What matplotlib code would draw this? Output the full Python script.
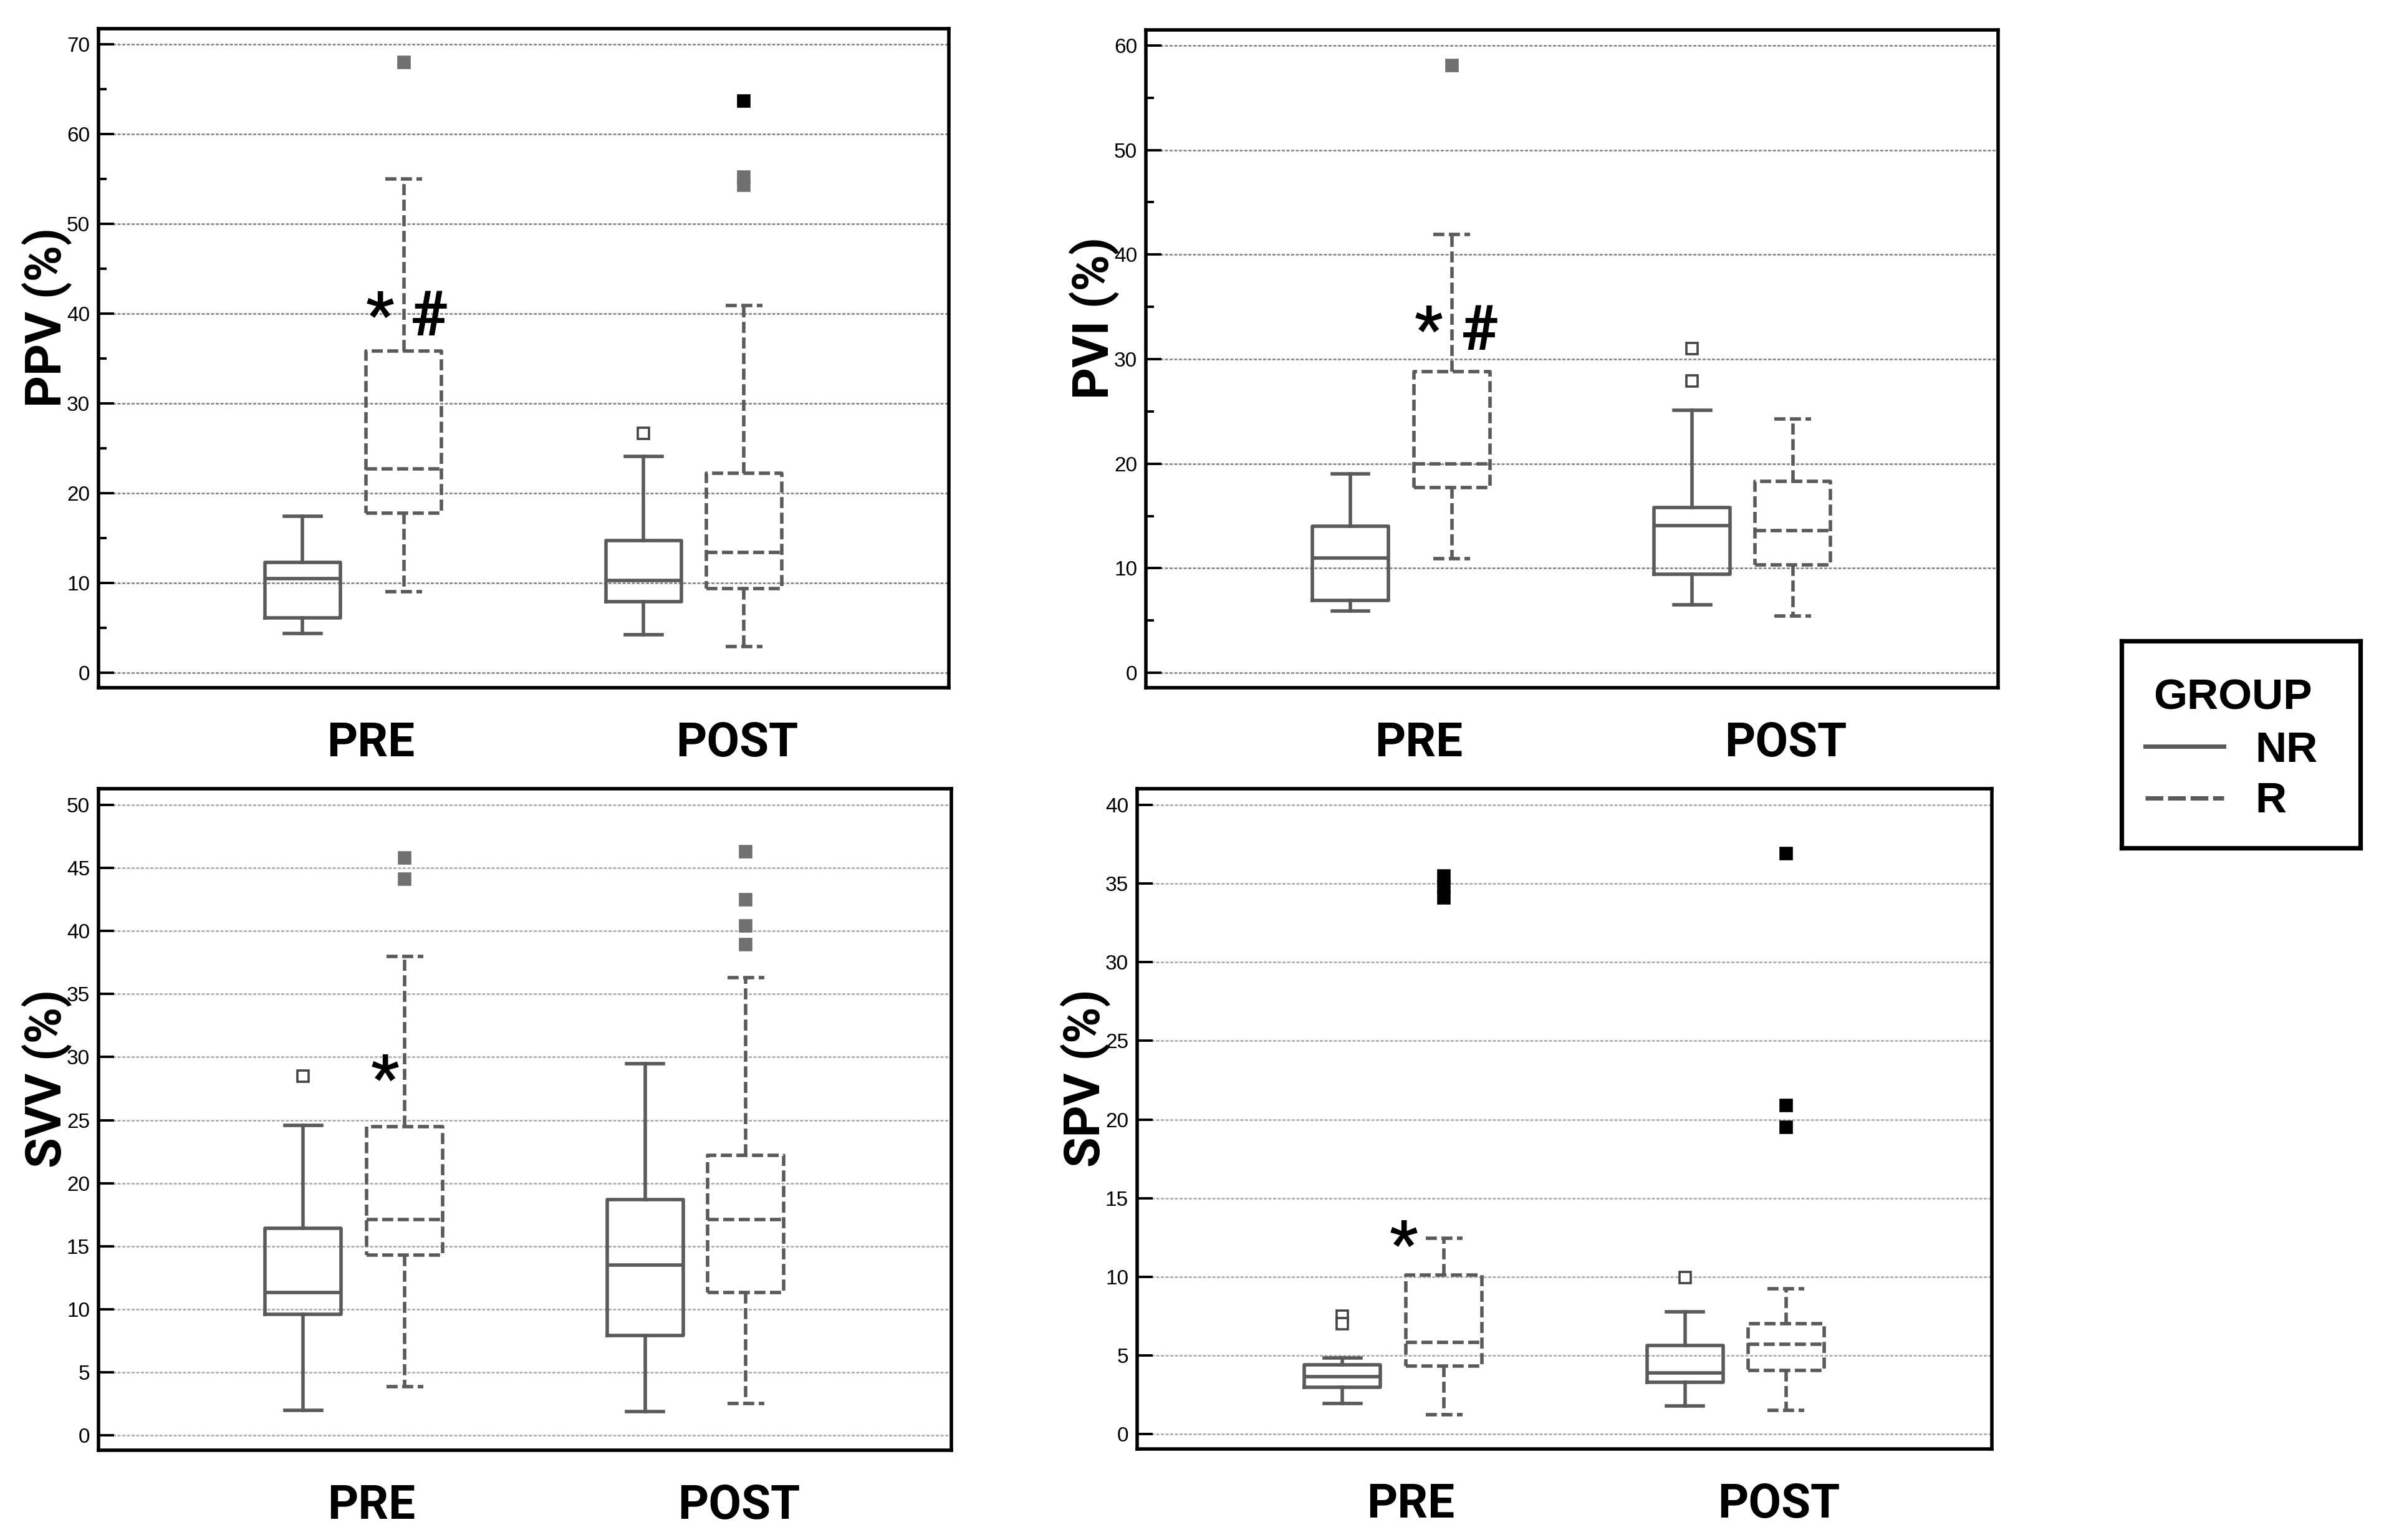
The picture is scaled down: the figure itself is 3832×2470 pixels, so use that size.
import matplotlib
matplotlib.use("Agg")
import matplotlib.pyplot as plt
from matplotlib.lines import Line2D

# %%
# box stats per group: [whisker low, Q1, median, Q3, whisker high], rows PRE, POST
phases = ["PRE", "POST"]
groups = ["NR", "R"]

ppv_nr = [[4.4, 6.1, 10.5, 12.3, 17.4], [4.2, 7.9, 10.3, 14.7, 24.1]]
ppv_r = [[9.0, 17.8, 22.7, 35.8, 55.0], [2.9, 9.4, 13.4, 22.2, 40.9]]
pvi_nr = [[5.9, 6.9, 11.0, 14.0, 19.0], [6.5, 9.4, 14.1, 15.8, 25.1]]
pvi_r = [[10.9, 17.7, 20.0, 28.8, 41.9], [5.4, 10.3, 13.6, 18.3, 24.3]]
svv_nr = [[2.0, 9.6, 11.3, 16.4, 24.6], [1.9, 7.9, 13.5, 18.7, 29.5]]
svv_r = [[3.85, 14.3, 17.1, 24.5, 38.0], [2.5, 11.3, 17.1, 22.2, 36.3]]
spv_nr = [[1.96, 2.99, 3.63, 4.4, 4.85], [1.77, 3.31, 3.88, 5.62, 7.77]]
spv_r = [[1.22, 4.33, 5.84, 10.1, 12.46], [1.51, 4.04, 5.71, 7.03, 9.25]]

# outliers as (box, value); box 0 = NR PRE, 1 = R PRE, 2 = NR POST, 3 = R POST
ppv_open = [(2, 26.7)]
ppv_grey = [(1, 68.0), (3, 54.3), (3, 55.2)]
ppv_black = [(3, 63.7)]
pvi_open = [(2, 31.0), (2, 27.9)]
pvi_grey = [(1, 58.1)]
pvi_black = []
svv_open = [(0, 28.5)]
svv_grey = [(1, 45.8), (1, 44.1), (3, 46.3), (3, 42.5), (3, 40.4), (3, 38.9)]
svv_black = []
spv_open = [(0, 7.5), (0, 7.0), (2, 9.95)]
spv_grey = []
spv_black = [(1, 35.5), (1, 34.8), (1, 34.1), (3, 36.9), (3, 20.9), (3, 19.5)]

# significance marks: (symbol, x in axes fraction, baseline value)
ppv_marks = [("*", 0.331, 37.6), ("#", 0.389, 37.6)]
pvi_marks = [("*", 0.332, 30.9), ("#", 0.392, 30.9)]
svv_marks = [("*", 0.336, 26.7)]
spv_marks = [("*", 0.312, 10.8)]

# %%
BOX_POS = [0.240, 0.359, 0.641, 0.759]
LABEL_POS = [0.320, 0.751]
BOX_W = 0.089
CAP_W = 0.043
LINE_C = "#5a5a5a"
DASH = (0, (3.2, 1.3))
BIG_FONT = "Roboto"
TICK_FONT = "Liberation Sans"

W, H = 3832, 2470


def rect(left, top, right, bottom):
    return [left / W, 1 - bottom / H, (right - left) / W, (bottom - top) / H]


def to_stats(vals):
    lo, q1, med, q3, hi = vals
    return dict(whislo=lo, q1=q1, med=med, q3=q3, whishi=hi, fliers=[])


def draw_panel(ax, nr, r, open_pts, grey_pts, black_pts, marks,
               ylabel, ymax, step, minor, ylim, grid_c):
    ax.set_xlim(0, 1)
    ax.set_ylim(*ylim)

    for vals, pos, ls in ((nr, [BOX_POS[0], BOX_POS[2]], "-"),
                          (r, [BOX_POS[1], BOX_POS[3]], DASH)):
        props = dict(color=LINE_C, linewidth=2.0, linestyle=ls)
        ax.bxp([to_stats(v) for v in vals], positions=pos, widths=BOX_W,
               capwidths=CAP_W, showfliers=False, manage_ticks=False,
               boxprops=props, whiskerprops=props, capprops=props,
               medianprops=props)

    for pts, fc, ec in ((open_pts, "white", "#444444"),
                        (grey_pts, "#707070", "#707070"),
                        (black_pts, "black", "black")):
        if pts:
            xs = [BOX_POS[i] for i, _ in pts]
            ys = [v for _, v in pts]
            ax.plot(xs, ys, ls="none", marker="s", ms=6.8, mfc=fc, mec=ec,
                    mew=1.3, zorder=4)

    for sym, fx, y in marks:
        ax.text(fx, y, sym, transform=ax.get_yaxis_transform(), ha="center",
                va="baseline", fontsize=36, fontweight="bold",
                family=BIG_FONT, zorder=5)

    ax.set_yticks(range(0, ymax + 1, step))
    if minor:
        ax.set_yticks([v + step / 2 for v in range(0, ymax, step)], minor=True)
    ax.tick_params(axis="y", which="major", direction="in", length=9,
                   width=1.4, labelsize=12, pad=5)
    ax.tick_params(axis="y", which="minor", direction="in", length=4.5,
                   width=1.4)
    for lab in ax.get_yticklabels():
        lab.set_family(TICK_FONT)
    ax.set_xticks(LABEL_POS, phases)
    ax.tick_params(axis="x", length=0, pad=19)
    for lab in ax.get_xticklabels():
        lab.set_family(BIG_FONT)
        lab.set_fontsize(27.5)
        lab.set_fontweight("bold")

    ax.yaxis.grid(True, which="major", color=grid_c, linestyle=(0, (2, 1)),
                  linewidth=0.9)
    ax.set_axisbelow(True)
    for sp in ax.spines.values():
        sp.set_linewidth(2.0)
        sp.set_color("black")

    ax.text(-0.061, 0.562, ylabel, transform=ax.transAxes, rotation=90,
            ha="center", va="center", fontsize=28.5, fontweight="bold",
            family=BIG_FONT)


# %%
fig = plt.figure(figsize=(W / 200, H / 200), dpi=200)

ax_ppv = fig.add_axes(rect(158, 46, 1522, 1103))
ax_pvi = fig.add_axes(rect(1838, 48, 3205, 1103))
ax_svv = fig.add_axes(rect(158, 1265, 1526, 2326))
ax_spv = fig.add_axes(rect(1824, 1265, 3195, 2324))

draw_panel(ax_ppv, ppv_nr, ppv_r, ppv_open, ppv_grey, ppv_black, ppv_marks,
           "PPV (%)", 70, 10, True, (-1.67, 71.74), "#808080")
draw_panel(ax_pvi, pvi_nr, pvi_r, pvi_open, pvi_grey, pvi_black, pvi_marks,
           "PVI (%)", 60, 10, True, (-1.43, 61.49), "#808080")
draw_panel(ax_svv, svv_nr, svv_r, svv_open, svv_grey, svv_black, svv_marks,
           "SVV (%)", 50, 5, False, (-1.19, 51.29), "#a8a8a8")
draw_panel(ax_spv, spv_nr, spv_r, spv_open, spv_grey, spv_black, spv_marks,
           "SPV (%)", 40, 5, False, (-0.95, 41.03), "#a8a8a8")

# legend box
lax = fig.add_axes(rect(3403, 1028, 3786, 1360))
lax.set_xlim(0, 1)
lax.set_ylim(0, 1)
lax.set_xticks([])
lax.set_yticks([])
for sp in lax.spines.values():
    sp.set_linewidth(2.6)
lax.text(0.465, 0.669, "GROUP", ha="center", va="baseline", fontsize=25,
         fontweight="bold", family=TICK_FONT)
for g, y_line, y_txt, ls in ((groups[0], 0.491, 0.416, "-"),
                             (groups[1], 0.241, 0.172, (0, (4.1, 1.1)))):
    lax.add_line(Line2D([0.099, 0.428], [y_line, y_line], color=LINE_C,
                        lw=2.5, linestyle=ls))
    lax.text(0.561, y_txt, g, ha="left", va="baseline", fontsize=25,
             fontweight="bold", family=TICK_FONT)

fig.savefig("out.png", dpi=200)
